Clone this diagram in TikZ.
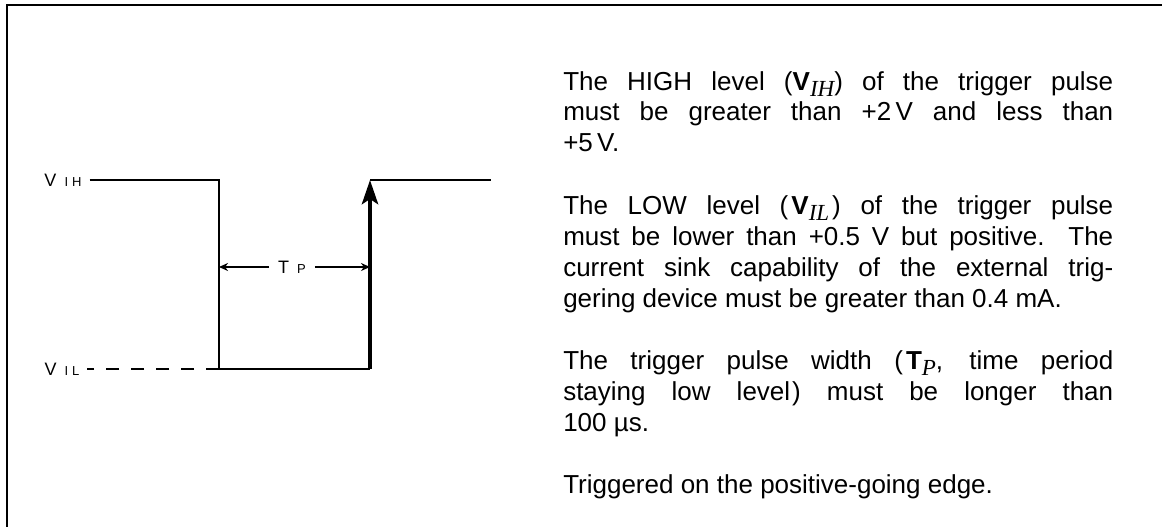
\documentclass[tikz,border=0pt]{standalone}
\usepackage{fontspec}
\setmainfont{Liberation Sans}
\newfontfamily\subfont{Liberation Serif}
\usetikzlibrary{arrows.meta}

\tolerance=10000
\hyphenpenalty=10000
\newcommand{\lvltext}[2]{{\fontsize{18}{18}\selectfont #1}\kern8pt{\fontsize{13}{13}\selectfont #2}}
\newcommand{\subit}[1]{\raisebox{-6pt}{\fontsize{23}{23}\subfont\itshape #1}}

\begin{document}
\begin{tikzpicture}[x=1pt, y=-1pt, line width=2.5pt,
    lvl/.style={inner sep=0pt, outer sep=8pt},
    para/.style={anchor=base west, inner sep=0pt, text width=550pt, align=justify,
      font=\fontsize{26}{31}\selectfont},
    tparrow/.style={line width=2pt, -{Stealth[length=9pt, width=8pt]}}]
  \useasboundingbox (0,0) rectangle (1162,527);
  % frame, only its top and left side are seen
  \draw (1162,5) -- (7,5) -- (7,527);

  % corners of the pulse
  \coordinate (fall) at (219,180);
  \coordinate (low1) at (219,369);
  \coordinate (low2) at (370,369);
  \coordinate (rise) at (370,180);
  \coordinate (high) at (491,180);

  \node[lvl] (vih) at (63,180) {\lvltext{V}{I\kern4pt H}};
  \node[lvl] (vil) at (62,369) {\lvltext{V}{I\kern4pt L}};

  \draw (vih) -- (fall) -- (low1) -- (low2);
  \draw[line width=4.5pt, -{Stealth[length=24pt, width=16pt, inset=5pt]}] (low2) -- (rise);
  \draw (rise) -- (high);
  \draw[dash pattern=on 13pt off 12pt] (low1) -- (vil);

  % pulse width
  \node[inner sep=0pt, outer sep=9pt] (tp) at (292,267) {\lvltext{T}{P}};
  \draw[tparrow] (tp) -- (fall |- tp);
  \draw[tparrow] (tp) -- (rise |- tp);

  % notes
  \node[para] (hightxt) at (562,90) {The HIGH level (\textbf{V}\subit{IH}) of the trigger pulse\linebreak
    must be greater than +2\,V and less than\linebreak +5\,V.};
  \node[para] (lowtxt) at (562,214) {The LOW level (\kern3pt\textbf{V}\subit{IL}\kern3pt) of the trigger pulse\linebreak
    must be lower than +0.5 V but positive.\ \ The\linebreak
    current sink capability of the external trig-\linebreak
    gering device must be greater than 0.4 mA.};
  \node[para] (widthtxt) at (562,369) {The trigger pulse width (\kern3pt\textbf{T}\subit{P}, time period\linebreak
    staying low level\kern2pt) must be longer than\linebreak 100 µs.};
  \node[para] (edgetxt) at (562,493) {Triggered on the positive-going edge.};
\end{tikzpicture}
\end{document}
